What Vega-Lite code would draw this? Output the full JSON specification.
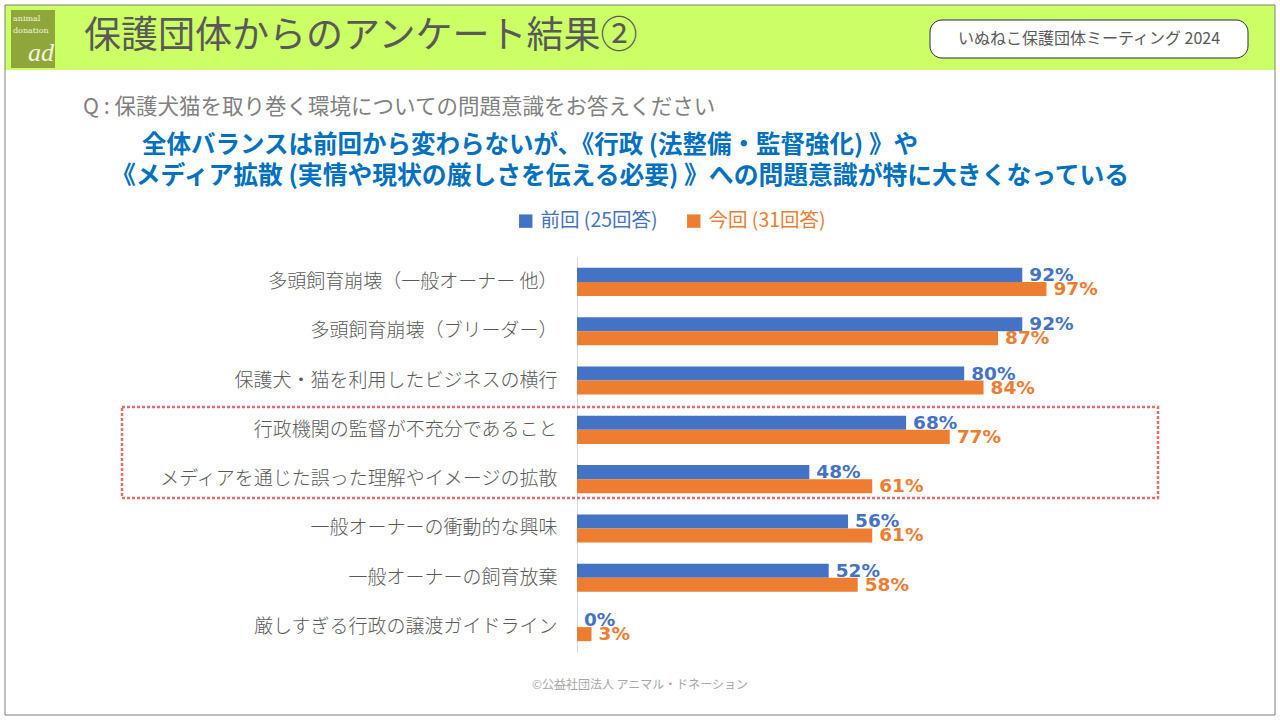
{
  "$schema": "https://vega.github.io/schema/vega-lite/v6.json",
  "width": 484,
  "height": 395,
  "autosize": {"type": "none"},
  "padding": {"left": 577, "top": 257, "right": 219, "bottom": 68},
  "background": "white",
  "config": {"view": {"stroke": null}, "font": "Noto Sans CJK JP"},
  "datasets": {
    "survey": [
      {"item": "多頭飼育崩壊（一般オーナー 他）", "series": "前回 (25回答)", "value": 0.92},
      {"item": "多頭飼育崩壊（一般オーナー 他）", "series": "今回 (31回答)", "value": 0.97},
      {"item": "多頭飼育崩壊（ブリーダー）", "series": "前回 (25回答)", "value": 0.92},
      {"item": "多頭飼育崩壊（ブリーダー）", "series": "今回 (31回答)", "value": 0.87},
      {"item": "保護犬・猫を利用したビジネスの横行", "series": "前回 (25回答)", "value": 0.80},
      {"item": "保護犬・猫を利用したビジネスの横行", "series": "今回 (31回答)", "value": 0.84},
      {"item": "行政機関の監督が不充分であること", "series": "前回 (25回答)", "value": 0.68},
      {"item": "行政機関の監督が不充分であること", "series": "今回 (31回答)", "value": 0.77},
      {"item": "メディアを通じた誤った理解やイメージの拡散", "series": "前回 (25回答)", "value": 0.48},
      {"item": "メディアを通じた誤った理解やイメージの拡散", "series": "今回 (31回答)", "value": 0.61},
      {"item": "一般オーナーの衝動的な興味", "series": "前回 (25回答)", "value": 0.56},
      {"item": "一般オーナーの衝動的な興味", "series": "今回 (31回答)", "value": 0.61},
      {"item": "一般オーナーの飼育放棄", "series": "前回 (25回答)", "value": 0.52},
      {"item": "一般オーナーの飼育放棄", "series": "今回 (31回答)", "value": 0.58},
      {"item": "厳しすぎる行政の譲渡ガイドライン", "series": "前回 (25回答)", "value": 0.0},
      {"item": "厳しすぎる行政の譲渡ガイドライン", "series": "今回 (31回答)", "value": 0.03}
    ]
  },
  "layer": [
    {
      "data": {"values": [{}]},
      "mark": {"type": "rect", "fill": "#CCFF66"},
      "encoding": {"x": {"value": -572}, "x2": {"value": 698}, "y": {"value": -252}, "y2": {"value": -187}}
    },
    {
      "data": {"values": [{}]},
      "mark": {"type": "rect", "fillOpacity": 0, "stroke": "#7F7F7F", "strokeWidth": 1},
      "encoding": {"x": {"value": -572}, "x2": {"value": 698}, "y": {"value": -252}, "y2": {"value": 458}}
    },
    {
      "data": {"values": [{}]},
      "mark": {"type": "rect", "fill": "#8FA73A"},
      "encoding": {"x": {"value": -566}, "x2": {"value": -522}, "y": {"value": -247}, "y2": {"value": -189}}
    },
    {
      "data": {"values": [{}]},
      "mark": {"type": "text", "text": "animal", "font": "DejaVu Serif", "fontSize": 8, "fill": "#F2F5DC", "align": "left", "baseline": "middle"},
      "encoding": {"x": {"value": -564}, "y": {"value": -238}}
    },
    {
      "data": {"values": [{}]},
      "mark": {"type": "text", "text": "donation", "font": "DejaVu Serif", "fontSize": 8, "fill": "#F2F5DC", "align": "left", "baseline": "middle"},
      "encoding": {"x": {"value": -564}, "y": {"value": -226}}
    },
    {
      "data": {"values": [{}]},
      "mark": {"type": "text", "text": "ad", "font": "Liberation Serif", "fontStyle": "italic", "fontSize": 26, "fill": "#F2F5DC", "align": "right", "baseline": "alphabetic"},
      "encoding": {"x": {"value": -523}, "y": {"value": -196}}
    },
    {
      "data": {"values": [{}]},
      "mark": {"type": "text", "text": "保護団体からのアンケート結果②", "fontSize": 37, "fill": "#595959", "align": "left", "baseline": "middle"},
      "encoding": {"x": {"value": -493}, "y": {"value": -220}}
    },
    {
      "data": {"values": [{}]},
      "mark": {"type": "rect", "fill": "white", "stroke": "#1F2A50", "strokeWidth": 1, "cornerRadius": 12},
      "encoding": {"x": {"value": 353}, "x2": {"value": 671}, "y": {"value": -237}, "y2": {"value": -199}}
    },
    {
      "data": {"values": [{}]},
      "mark": {"type": "text", "text": "いぬねこ保護団体ミーティング 2024", "fontSize": 16, "fill": "#595959", "align": "center", "baseline": "middle"},
      "encoding": {"x": {"value": 512}, "y": {"value": -218}}
    },
    {
      "data": {"values": [{}]},
      "mark": {"type": "text", "text": "Q : 保護犬猫を取り巻く環境についての問題意識をお答えください", "fontSize": 21.5, "fill": "#808080", "align": "left", "baseline": "middle"},
      "encoding": {"x": {"value": -494}, "y": {"value": -149}}
    },
    {
      "data": {"values": [{}]},
      "mark": {"type": "text", "text": "全体バランスは前回から変わらないが、《行政 (法整備・監督強化) 》や", "fontSize": 24.5, "fontWeight": "bold", "fill": "#0070C0", "align": "left", "baseline": "middle"},
      "encoding": {"x": {"value": -435}, "y": {"value": -111}}
    },
    {
      "data": {"values": [{}]},
      "mark": {"type": "text", "text": "《メディア拡散 (実情や現状の厳しさを伝える必要) 》への問題意識が特に大きくなっている", "fontSize": 24.8, "fontWeight": "bold", "fill": "#0070C0", "align": "left", "baseline": "middle"},
      "encoding": {"x": {"value": -466}, "y": {"value": -80}}
    },
    {
      "data": {"values": [{}]},
      "mark": {"type": "rect", "fillOpacity": 0, "stroke": "#E46C6C", "strokeWidth": 2.5, "strokeDash": [3, 2]},
      "encoding": {"x": {"value": -455}, "x2": {"value": 581}, "y": {"value": 150}, "y2": {"value": 241}}
    },
    {
      "data": {"values": [{}]},
      "mark": {"type": "text", "text": "©公益社団法人 アニマル・ドネーション", "fontSize": 12, "fill": "#A6A6A6", "align": "center", "baseline": "middle"},
      "encoding": {"x": {"value": 63}, "y": {"value": 428}}
    },
    {
      "data": {"name": "survey"},
      "mark": {"type": "bar"},
      "encoding": {
        "y": {
          "field": "item", "type": "nominal", "sort": null,
          "scale": {"paddingInner": 0.43, "paddingOuter": 0.22},
          "axis": {"title": null, "ticks": false, "grid": false, "domain": true, "domainColor": "#D9D9D9", "domainWidth": 1, "labelColor": "#595959", "labelFontSize": 19, "labelFontWeight": 300, "labelPadding": 20, "labelLimit": 500}
        },
        "yOffset": {"field": "series", "scale": {"domain": ["前回 (25回答)", "今回 (31回答)"]}},
        "x": {"field": "value", "type": "quantitative", "scale": {"domain": [0, 1], "nice": false, "zero": true}, "axis": null},
        "color": {
          "field": "series", "type": "nominal",
          "scale": {"domain": ["前回 (25回答)", "今回 (31回答)"], "range": ["#4472C4", "#ED7D31"]},
          "legend": {
            "orient": "none", "legendX": -61, "legendY": -46, "direction": "horizontal", "title": null,
            "symbolType": "square", "symbolSize": 180, "symbolStrokeWidth": 0, "labelFontSize": 19.5,
            "columnPadding": 26, "labelOffset": 5, "labelLimit": 300, "padding": 0,
            "encode": {"labels": {"update": {"fill": {"signal": "datum.value === '前回 (25回答)' ? '#4472C4' : '#ED7D31'"}}}}
          }
        }
      }
    },
    {
      "data": {"name": "survey"},
      "mark": {"type": "text", "align": "left", "baseline": "middle", "dx": 7, "fontSize": 18.5, "fontWeight": "bold", "font": "DejaVu Sans"},
      "encoding": {
        "y": {"field": "item", "type": "nominal", "sort": null},
        "yOffset": {"field": "series", "scale": {"domain": ["前回 (25回答)", "今回 (31回答)"]}},
        "x": {"field": "value", "type": "quantitative"},
        "text": {"field": "value", "type": "quantitative", "format": ".0%"},
        "color": {"field": "series", "type": "nominal"}
      }
    }
  ]
}
